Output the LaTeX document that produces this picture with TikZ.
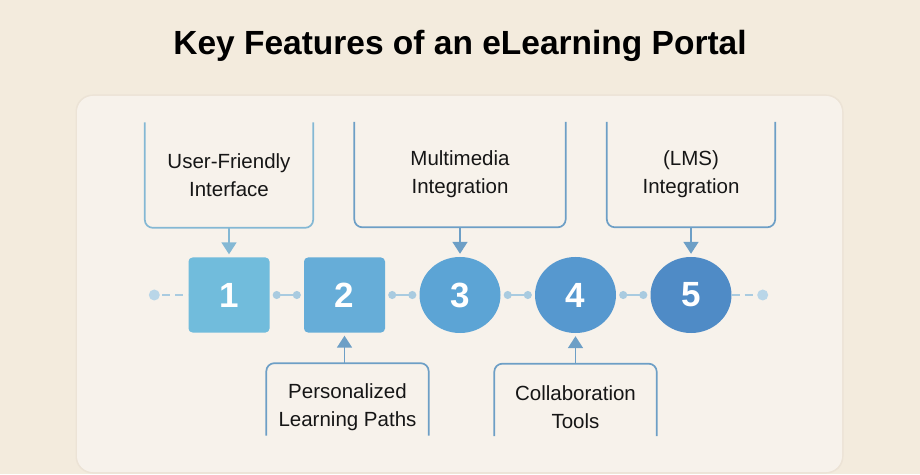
\documentclass[tikz,border=0pt]{standalone}
\usepackage{fontspec}
\setmainfont{Liberation Sans}
\usetikzlibrary{shapes,positioning,calc,arrows.meta}
\definecolor{bgbeige}{HTML}{F3EBDD}
\definecolor{panel}{HTML}{F7F2EB}
\definecolor{panelrim}{HTML}{ECE3D6}
\definecolor{cone}{HTML}{71BCDC}
\definecolor{ctwo}{HTML}{66ADD8}
\definecolor{cthree}{HTML}{5CA4D5}
\definecolor{cfour}{HTML}{5698CF}
\definecolor{cfive}{HTML}{4F8BC6}
\definecolor{brklight}{HTML}{84B8D4}
\definecolor{brkblue}{HTML}{6D9FC6}
\definecolor{linkblue}{HTML}{A9CBE0}
\definecolor{dotblue}{HTML}{B9D6E8}
\definecolor{ink}{HTML}{161616}

\begin{document}
\begin{tikzpicture}[
    x=1pt,y=1pt,
    node distance=115.5pt,
    num/.style={inner sep=0pt,text=white,font=\fontsize{35}{35}\selectfont\bfseries},
    sq/.style={num,rectangle,rounded corners=4pt,minimum width=81pt,minimum height=75pt},
    rnd/.style={num,ellipse,minimum width=81pt,minimum height=76pt},
    lbl/.style={align=center,inner sep=0pt,text=ink,font=\fontsize{20.5}{28}\selectfont},
    brk/.style={draw=brkblue,line width=1.7pt,rounded corners=8pt},
    pt/.style={draw=brkblue,line width=1.8pt,-{Triangle[length=12pt,width=15pt]}},
    link/.style={draw=linkblue,line width=1.4pt,{Circle[length=8pt]}-{Circle[length=8pt]},shorten <=3pt,shorten >=3pt},
    tail/.style={draw=linkblue,line width=1.4pt,dash pattern=on 8pt off 5pt}
    ]
        \useasboundingbox (0,0) rectangle (920,474);
        \fill [bgbeige] (0,0) rectangle (920,474);
        \fill [panelrim,rounded corners=17pt] (75.5,0.5) rectangle (843.5,379.5);
        \fill [panel,rounded corners=16pt] (77,2) rectangle (842,378);

        \node [anchor=base,font=\fontsize{33.5}{33.5}\selectfont\bfseries,text=black] (title) at (460,419) {Key Features of an eLearning Portal};

        \node [sq,fill=cone](n1) at (229,179) {1};
        \node [sq,fill=ctwo](n2) [right of=n1] {2};
        \node [rnd,fill=cthree](n3) [right of=n2] {3};
        \node [rnd,fill=cfour](n4) [right of=n3] {4};
        \node [rnd,fill=cfive](n5) [right of=n4] {5};

        \coordinate [left=34pt of n1] (l0);
        \coordinate [right=31pt of n5] (r0);
        \draw [tail] (l0) ++(8,0) -- (n1.west);
        \draw [tail] (n5.east) -- ($(r0)+(-7,0)$);
        \fill [dotblue] (l0) circle (5.5pt);
        \fill [dotblue] (r0) circle (5.5pt);
        \draw [link] (n1) -- (n2);
        \draw [link] (n2) -- (n3);
        \draw [link] (n3) -- (n4);
        \draw [link] (n4) -- (n5);

        % features above the line
        \node [lbl,minimum width=168pt,minimum height=105pt](f1) [above=29.5pt of n1] {User-Friendly\\Interface};
        \node [lbl,minimum width=211pt,minimum height=105pt](f3) [above=29.5pt of n3] {Multimedia\\Integration};
        \node [lbl,minimum width=168pt,minimum height=105pt](f5) [above=29.5pt of n5] {(LMS)\\Integration};
        \draw [brk,draw=brklight] (f1.north west) -- (f1.south west) -- (f1.south east) -- (f1.north east);
        \draw [brk] (f3.north west) -- (f3.south west) -- (f3.south east) -- (f3.north east);
        \draw [brk] (f5.north west) -- (f5.south west) -- (f5.south east) -- (f5.north east);
        \draw [pt,draw=brklight,shorten >=3pt] (f1.south) -- (n1.north);
        \draw [pt,shorten >=3pt] (f3.south) -- (n3.north);
        \draw [pt,shorten >=3pt] (f5.south) -- (n5.north);

        % features below the line
        \node [lbl,minimum width=162pt,minimum height=87pt](f2) [below=30.5pt of n2,xshift=3pt] {Personalized\\Learning Paths};
        \node [lbl,minimum width=162pt,minimum height=87pt](f4) [below=30.5pt of n4] {Collaboration\\Tools};
        \draw [brk] ($(f2.south west)+(0,15)$) -- (f2.north west) -- (f2.north east) -- ($(f2.south east)+(0,15)$);
        \draw [brk] ($(f4.south west)+(0,15)$) -- (f4.north west) -- (f4.north east) -- ($(f4.south east)+(0,15)$);
        \draw [pt,shorten >=3pt] (f2.north -| n2) -- (n2.south);
        \draw [pt,shorten >=3pt] (f4.north) -- (n4.south);

\end{tikzpicture}
\end{document}
